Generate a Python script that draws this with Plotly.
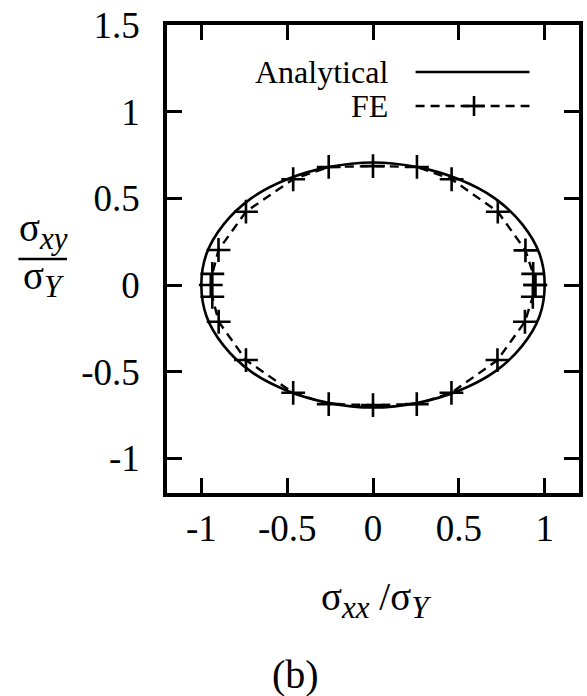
import plotly.graph_objects as go

# Analytical yield ellipse, read around the loop (sigma_xx/sigma_Y, sigma_xy/sigma_Y)
ana_x = [1.00, 0.97, 0.87, 0.71, 0.50, 0.26, 0.00, -0.26, -0.50, -0.71, -0.87, -0.97,
         -1.00, -0.97, -0.87, -0.71, -0.50, -0.26, 0.00, 0.26, 0.50, 0.71, 0.87, 0.97, 1.00]
ana_y = [0.00, 0.18, 0.35, 0.50, 0.61, 0.68, 0.707, 0.68, 0.61, 0.50, 0.35, 0.18,
         0.00, -0.18, -0.35, -0.50, -0.61, -0.68, -0.707, -0.68, -0.61, -0.50, -0.35, -0.18, 0.00]

# Finite element results
fe_x = [0.945, 0.933, 0.888, 0.727, 0.458, 0.256, 0.000, -0.258, -0.465, -0.740, -0.900, -0.936,
        -0.945, -0.936, -0.899, -0.740, -0.465, -0.258, 0.000, 0.255, 0.457, 0.725, 0.885, 0.931, 0.945]
fe_y = [0.000, 0.064, 0.200, 0.423, 0.610, 0.681, 0.686, 0.681, 0.610, 0.423, 0.202, 0.064,
        0.000, -0.068, -0.212, -0.433, -0.622, -0.687, -0.693, -0.687, -0.622, -0.433, -0.212, -0.068, 0.000]

x_ticks = [-1, -0.5, 0, 0.5, 1]
x_labels = ["-1", "-0.5", "0", "0.5", "1"]
y_ticks = [-1, -0.5, 0, 0.5, 1, 1.5]
y_labels = ["-1", "-0.5", "0", "0.5", "1", "1.5"]

series_names = ["Analytical", "FE"]

W, H = 587, 696
L, R, T, B = 167, 4, 25, 203
PW, PH = W - L - R, H - T - B


def px(xp):
    return (xp - L) / PW


def py(yp):
    return (H - B - yp) / PH


def sub(s, size=31):
    return '<sub><span style="font-size:%dpx"><i>%s</i></span></sub>' % (size, s)


FONT = "Liberation Serif"

fig = go.Figure()
fig.add_trace(go.Scatter(
    x=ana_x, y=ana_y, mode="lines", name=series_names[0],
    line=dict(color="black", width=2.6, shape="spline", smoothing=1.0),
    showlegend=False, hoverinfo="skip"))
fig.add_trace(go.Scatter(
    x=fe_x, y=fe_y, mode="lines+markers", name=series_names[1],
    line=dict(color="black", width=2.4, dash="9px,6px"),
    marker=dict(symbol="cross-thin", size=17, line=dict(color="black", width=2.6)),
    showlegend=False, hoverinfo="skip"))

axis_common = dict(
    showgrid=False, zeroline=False, showline=True, linecolor="black", linewidth=3.5,
    mirror="ticks", ticks="inside", ticklen=15, tickwidth=2.5, tickcolor="black",
    tickfont=dict(family=FONT, size=37, color="black"),
)
fig.update_xaxes(range=[-1.2, 1.2], tickvals=x_ticks, ticktext=x_labels,
                 ticklabelstandoff=0, **axis_common)
fig.update_yaxes(range=[-1.2, 1.5], tickvals=y_ticks, ticktext=y_labels,
                 ticklabelstandoff=16, **axis_common)

annotations = [
    # x-axis title
    dict(x=px(378), y=py(600), text="σ" + sub("xx") + " /σ" + sub("Y"),
         font=dict(family=FONT, size=39, color="black")),
    # y-axis title as a stacked fraction
    dict(x=px(42), y=py(231), text="σ" + sub("xy"),
         font=dict(family=FONT, size=39, color="black")),
    dict(x=px(42), y=py(279), text="σ" + sub("Y"),
         font=dict(family=FONT, size=39, color="black")),
    # panel label
    dict(x=px(297), y=py(674), text="(b)",
         font=dict(family=FONT, size=40, color="black")),
    # key labels
    dict(x=px(392), y=py(72), text=series_names[0], xanchor="right",
         font=dict(family=FONT, size=32, color="black")),
    dict(x=px(392), y=py(106), text=series_names[1], xanchor="right",
         font=dict(family=FONT, size=32, color="black")),
]
for a in annotations:
    a.setdefault("xanchor", "center")
    a.update(xref="paper", yref="paper", yanchor="middle", showarrow=False)

shapes = [
    # fraction bar of the y-axis title
    dict(type="line", x0=px(17), x1=px(66), y0=py(259), y1=py(259),
         line=dict(color="black", width=2.5)),
    # key samples
    dict(type="line", x0=px(418), x1=px(533), y0=py(72), y1=py(72),
         line=dict(color="black", width=2.6)),
    dict(type="line", x0=px(418), x1=px(533), y0=py(106), y1=py(106),
         line=dict(color="black", width=2.4, dash="9px,6px")),
    dict(type="line", x0=px(466), x1=px(488), y0=py(106), y1=py(106),
         line=dict(color="black", width=2.6)),
    dict(type="line", x0=px(477), x1=px(477), y0=py(96), y1=py(116),
         line=dict(color="black", width=2.6)),
]
for s in shapes:
    s.update(xref="paper", yref="paper", layer="above")

fig.update_layout(
    width=W, height=H,
    margin=dict(l=L, r=R, t=T, b=B, pad=0),
    paper_bgcolor="white", plot_bgcolor="white",
    showlegend=False,
    annotations=annotations, shapes=shapes,
)

fig.write_html("out.html")
